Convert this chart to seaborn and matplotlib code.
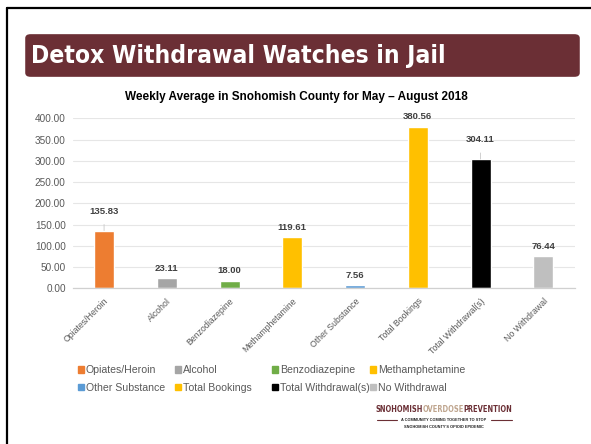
import matplotlib
matplotlib.use("Agg")
import matplotlib.pyplot as plt
import matplotlib.patches as mpatches
from matplotlib.lines import Line2D
import seaborn as sns
import pandas as pd

# ---- Dados ----
categorias = ["Opiates/Heroin", "Alcohol", "Benzodiazepine", "Methamphetamine",
              "Other Substance", "Total Bookings", "Total Withdrawal(s)", "No Withdrawal"]
valores = [135.83, 23.11, 18.00, 119.61, 7.56, 380.56, 304.11, 76.44]
cores = ["#ED7D31", "#A5A5A5", "#70AD47", "#FFC000",
         "#5B9BD5", "#FFC000", "#000000", "#BFBFBF"]
y_ticks = [0, 50, 100, 150, 200, 250, 300, 350, 400]
com_guia = ["Opiates/Heroin", "Total Withdrawal(s)"]  # rótulos com linha guia

titulo = "Detox Withdrawal Watches in Jail"
subtitulo = "Weekly Average in Snohomish County for May \u2013 August 2018"

data = pd.DataFrame({"cat": categorias, "val": valores})

sns.set_theme(style="white")
plt.rcParams["font.family"] = ["Liberation Sans", "DejaVu Sans"]

W, H = 591, 444
fig = plt.figure(figsize=(W / 100, H / 100), dpi=100)
fig.patch.set_facecolor("white")
r = fig.canvas.get_renderer()


def ajusta_largura(txt, largura_px):
    # reduz a fonte até o texto caber na largura desejada
    fig.canvas.draw()
    w = txt.get_window_extent(r).width
    if w > largura_px:
        txt.set_fontsize(txt.get_fontsize() * largura_px / w)


# ---- Moldura do slide ----
fig.add_artist(Line2D([7 / W, 7 / W], [0, 1 - 8 / H], color="black", lw=1.6))
fig.add_artist(Line2D([7 / W, 1], [1 - 8 / H, 1 - 8 / H], color="black", lw=1.6))

# ---- Faixa do título ----
banner = mpatches.FancyBboxPatch((27 / W, 1 - 75.5 / H), 551 / W, 40 / H,
                                 boxstyle="round,pad=0.003,rounding_size=0.009",
                                 transform=fig.transFigure, facecolor="#6B2F35",
                                 edgecolor="none")
fig.add_artist(banner)
t_tit = fig.text(31 / W, 1 - 56 / H, titulo, color="white", fontsize=27, fontweight="bold",
                 family="DejaVu Sans", fontstretch="condensed", va="center", ha="left")
ajusta_largura(t_tit, 414)

fig.text(296 / W, 1 - 97 / H, subtitulo, fontsize=8.5, fontweight="bold",
         color="#000000", ha="center", va="center")

# ---- Gráfico ----
ax = fig.add_axes([72.7 / W, 1 - 288.3 / H, 502 / W, 170 / H])
sns.barplot(data=data, x="cat", y="val", hue="cat", palette=cores, width=0.32,
            legend=False, ax=ax, saturation=1)

ax.set_ylim(0, 400)
ax.set_xlim(-0.5, len(categorias) - 0.5)
ax.set_yticks(y_ticks)
ax.set_yticklabels([f"{v:.2f}" for v in y_ticks], fontsize=7.2, color="#595959")
ax.set_xticks(range(len(categorias)))
ax.set_xticklabels(categorias, rotation=45, ha="right", rotation_mode="anchor",
                   fontsize=6.3, color="#595959")
ax.tick_params(axis="both", length=0, pad=5)
ax.tick_params(axis="x", pad=6)
ax.set_xlabel("")
ax.set_ylabel("")
ax.yaxis.grid(True, color="#E6E6E6", lw=0.8)
ax.set_axisbelow(True)
for s in ["top", "right", "left"]:
    ax.spines[s].set_visible(False)
ax.spines["bottom"].set_color("#D0D0D0")
ax.spines["bottom"].set_linewidth(0.9)

for i, (c, v) in enumerate(zip(categorias, valores)):
    if c in com_guia:
        ax.annotate(f"{v:.2f}", xy=(i, v), xytext=(0, 14), textcoords="offset points",
                    ha="center", va="center", fontsize=6.8, fontweight="bold", color="#404040",
                    arrowprops=dict(arrowstyle="-", color="#C8C8C8", lw=0.6,
                                    shrinkA=4, shrinkB=0))
    else:
        ax.annotate(f"{v:.2f}", xy=(i, v), xytext=(0, 7), textcoords="offset points",
                    ha="center", va="center", fontsize=6.8, fontweight="bold", color="#404040")

# ---- Legenda: 4 colunas de largura fixa, como no Excel ----
col_x = [78, 175, 272, 370]
for j in range(4):
    idx = [j, j + 4]
    hs = [mpatches.Patch(color=cores[i]) for i in idx]
    leg = fig.legend(hs, [categorias[i] for i in idx],
                     loc="center left", bbox_to_anchor=(col_x[j] / W, 1 - 379 / H),
                     frameon=False, fontsize=7.6, handlelength=0.55, handleheight=0.55,
                     handletextpad=0.2, labelspacing=0.68, borderaxespad=0, borderpad=0)
    for t in leg.get_texts():
        t.set_color("#595959")

# ---- Logo ----
y_logo = 1 - 409 / H
partes = [("SNOHOMISH", "#6B2F35"), ("OVERDOSE", "#BFA58E"), ("PREVENTION", "#6B2F35")]
x0 = 375
txts = []
for palavra, cor in partes:
    txts.append(fig.text(x0 / W, y_logo, palavra, color=cor, fontsize=7, fontweight="bold",
                         family="DejaVu Sans", fontstretch="condensed",
                         va="center", ha="left"))
fig.canvas.draw()
total = sum(t.get_window_extent(r).width for t in txts)
esc = 138 / total
x = x0
for t in txts:
    t.set_fontsize(7 * esc)
    t.set_x(x / W)
    fig.canvas.draw()
    x = t.get_window_extent(r).x1

fig.text(444 / W, 1 - 420 / H, "A COMMUNITY COMING TOGETHER TO STOP", fontsize=2.8,
         fontweight="bold", color="#222222", ha="center", va="center")
fig.text(444 / W, 1 - 427 / H, "SNOHOMISH COUNTY'S OPIOID EPIDEMIC", fontsize=2.8,
         fontweight="bold", color="#222222", ha="center", va="center")
fig.add_artist(Line2D([377 / W, 397 / W], [1 - 420 / H] * 2, color="#6B2F35", lw=0.8))
fig.add_artist(Line2D([491 / W, 512 / W], [1 - 420 / H] * 2, color="#6B2F35", lw=0.8))

fig.savefig("out.png", dpi=100, facecolor="white")
